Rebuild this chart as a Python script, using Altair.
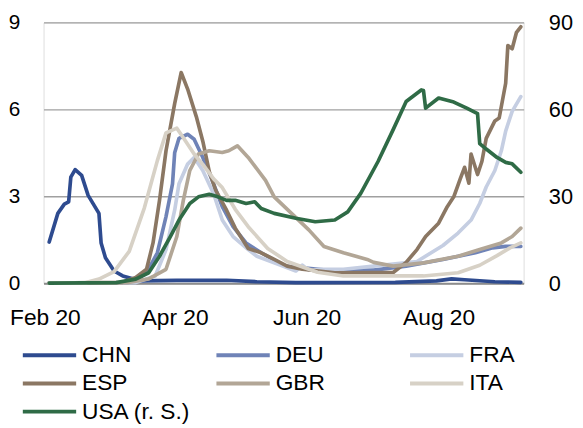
import altair as alt
import pandas as pd

names = ["CHN", "DEU", "FRA", "ESP", "GBR", "ITA", "USA (r. S.)"]
colors = ["#2E4B8F", "#6F83B7", "#C5CEE2", "#8B7763", "#B2A696", "#D7D1C6", "#2F6B46"]

chn_dates = ["2020-02-03", "2020-02-07", "2020-02-10", "2020-02-12", "2020-02-13", "2020-02-15",
             "2020-02-18", "2020-02-21", "2020-02-26", "2020-02-27", "2020-02-29", "2020-03-04",
             "2020-03-08", "2020-03-16", "2020-04-02", "2020-04-25", "2020-05-09", "2020-05-27",
             "2020-07-12", "2020-07-31", "2020-08-07", "2020-08-13", "2020-08-27", "2020-09-08"]
chn_vals = [1.42, 2.41, 2.73, 2.81, 3.66, 3.92, 3.72, 3.03, 2.41, 1.39, 0.88, 0.42,
            0.25, 0.08, 0.10, 0.10, 0.05, 0.02, 0.03, 0.08, 0.15, 0.12, 0.05, 0.03]

deu_dates = ["2020-02-03", "2020-03-10", "2020-03-14", "2020-03-19", "2020-03-24", "2020-03-28",
             "2020-03-31", "2020-04-01", "2020-04-03", "2020-04-07", "2020-04-10", "2020-04-14",
             "2020-04-19", "2020-04-23", "2020-04-28", "2020-05-04", "2020-05-11", "2020-05-22",
             "2020-06-10", "2020-07-02", "2020-07-17", "2020-08-03", "2020-08-18", "2020-08-26",
             "2020-09-01", "2020-09-08"]
deu_vals = [0, 0.02, 0.10, 0.35, 1.05, 2.30, 3.43, 4.50, 5.00, 5.14, 4.97, 4.34,
            3.43, 2.64, 1.95, 1.39, 1.05, 0.59, 0.45, 0.45, 0.59, 0.82, 1.05, 1.22,
            1.27, 1.27]

fra_dates = ["2020-02-03", "2020-03-14", "2020-03-23", "2020-03-28", "2020-04-01", "2020-04-03",
             "2020-04-07", "2020-04-10", "2020-04-14", "2020-04-19", "2020-04-23", "2020-04-28",
             "2020-05-05", "2020-05-09", "2020-05-21", "2020-05-27", "2020-05-30", "2020-06-02",
             "2020-06-08", "2020-06-18", "2020-07-02", "2020-07-22", "2020-08-03", "2020-08-10",
             "2020-08-16", "2020-08-20", "2020-08-23", "2020-08-27", "2020-08-30", "2020-09-01",
             "2020-09-04", "2020-09-08"]
fra_vals = [0, 0.02, 0.25, 1.16, 2.52, 3.43, 4.11, 4.34, 3.89, 3.09, 2.18, 1.61,
            1.16, 0.93, 0.59, 0.42, 0.62, 0.45, 0.48, 0.48, 0.59, 0.75, 1.30, 1.73,
            2.18, 2.75, 3.32, 3.89, 4.57, 5.25, 5.93, 6.44]

esp_dates = ["2020-02-03", "2020-03-08", "2020-03-14", "2020-03-19", "2020-03-22", "2020-03-25",
             "2020-03-28", "2020-04-01", "2020-04-04", "2020-04-07", "2020-04-11", "2020-04-14",
             "2020-04-17", "2020-04-20", "2020-04-25", "2020-04-29", "2020-05-05", "2020-05-11",
             "2020-05-17", "2020-05-23", "2020-05-30", "2020-06-14", "2020-07-02", "2020-07-11",
             "2020-07-17", "2020-07-22", "2020-07-26", "2020-08-01", "2020-08-05", "2020-08-08",
             "2020-08-11", "2020-08-13", "2020-08-15", "2020-08-16", "2020-08-19", "2020-08-21",
             "2020-08-23", "2020-08-27", "2020-08-29", "2020-09-01", "2020-09-02", "2020-09-04",
             "2020-09-06", "2020-09-08"]
esp_vals = [0, 0.03, 0.20, 0.48, 1.39, 2.86, 4.57, 6.20, 7.27, 6.70, 5.75, 4.90,
            3.85, 3.20, 2.52, 1.90, 1.20, 1.05, 0.82, 0.59, 0.48, 0.36, 0.37, 0.37,
            0.72, 1.16, 1.61, 2.07, 2.64, 2.98, 3.60, 4.00, 3.45, 4.46, 3.75, 4.20,
            5.00, 5.60, 5.70, 6.90, 8.20, 8.09, 8.66, 8.85]

gbr_dates = ["2020-02-03", "2020-03-10", "2020-03-20", "2020-03-28", "2020-04-02", "2020-04-05",
             "2020-04-08", "2020-04-12", "2020-04-17", "2020-04-23", "2020-04-26", "2020-04-30",
             "2020-05-05", "2020-05-13", "2020-05-17", "2020-05-25", "2020-06-02", "2020-06-09",
             "2020-06-18", "2020-06-29", "2020-07-02", "2020-07-11", "2020-07-25", "2020-08-10",
             "2020-08-20", "2020-08-30", "2020-09-04", "2020-09-08"]
gbr_vals = [0, 0.02, 0.15, 0.48, 1.61, 2.86, 3.89, 4.46, 4.57, 4.51, 4.57, 4.74,
            4.34, 3.55, 2.98, 2.41, 1.84, 1.27, 1.05, 0.82, 0.72, 0.59, 0.70, 0.93,
            1.16, 1.39, 1.61, 1.90]

ita_dates = ["2020-02-03", "2020-02-20", "2020-02-26", "2020-03-04", "2020-03-11", "2020-03-18",
             "2020-03-24", "2020-03-28", "2020-04-02", "2020-04-05", "2020-04-10", "2020-04-14",
             "2020-04-19", "2020-04-23", "2020-04-29", "2020-05-05", "2020-05-14", "2020-05-23",
             "2020-06-06", "2020-06-18", "2020-07-25", "2020-08-10", "2020-08-20", "2020-08-28",
             "2020-09-03", "2020-09-08"]
ita_vals = [0, 0.02, 0.14, 0.40, 1.10, 2.60, 4.23, 5.19, 5.35, 5.02, 4.46, 4.10,
            3.60, 3.30, 2.55, 1.95, 1.20, 0.75, 0.38, 0.25, 0.25, 0.36, 0.62, 0.95,
            1.22, 1.39]

usa_dates = ["2020-02-03", "2020-03-05", "2020-03-14", "2020-03-20", "2020-03-25", "2020-03-30",
             "2020-04-03", "2020-04-08", "2020-04-12", "2020-04-17", "2020-04-21", "2020-04-25",
             "2020-04-29", "2020-05-04", "2020-05-08", "2020-05-11", "2020-05-17", "2020-05-27",
             "2020-06-05", "2020-06-14", "2020-06-20", "2020-06-26", "2020-07-04", "2020-07-11",
             "2020-07-17", "2020-07-24", "2020-07-25", "2020-07-26", "2020-08-01", "2020-08-08",
             "2020-08-14", "2020-08-19", "2020-08-20", "2020-08-23", "2020-08-28", "2020-09-01",
             "2020-09-04", "2020-09-08"]
usa_vals = [0, 0.2, 1.4, 3.6, 9.3, 16.1, 21.8, 27.5, 29.8, 30.7, 29.8, 28.6,
            28.6, 27.5, 28.1, 25.8, 24.1, 22.4, 21.2, 21.8, 24.6, 31.0, 42.0, 53.0,
            62.7, 66.7, 66.5, 60.4, 63.9, 62.5, 60.4, 58.5, 48.2, 46.3, 43.4, 41.7,
            41.2, 38.3]

left_ticks = [0, 3, 6, 9]
right_ticks = [0, 30, 60, 90]

series = [
    ("CHN", chn_dates, chn_vals),
    ("DEU", deu_dates, deu_vals),
    ("FRA", fra_dates, fra_vals),
    ("ESP", esp_dates, esp_vals),
    ("GBR", gbr_dates, gbr_vals),
    ("ITA", ita_dates, ita_vals),
    ("USA (r. S.)", usa_dates, usa_vals),
]

rows = []
for name, ds, vs in series:
    for d, v in zip(ds, vs):
        rows.append({"date": d, "value": v, "series": name})
df = pd.DataFrame(rows)
df["date"] = pd.to_datetime(df["date"])

FONT = "Liberation Sans"

x_enc = alt.X(
    "date:T",
    scale=alt.Scale(domain=[alt.DateTime(year=2020, month=1, date=31, hours=9, minutes=36),
                            alt.DateTime(year=2020, month=9, date=9, hours=7, minutes=12)]),
    axis=alt.Axis(
        values=[alt.DateTime(year=2020, month=m, date=1) for m in (2, 4, 6, 8)],
        format="%b %y", title=None, grid=False, ticks=False, tickSize=0,
        labelPadding=24, labelFont=FONT, labelFontSize=23, labelColor="#000000",
        labelFlush=False, labelAngle=0, labelOverlap=False,
        domain=True, domainColor="#8C8C8C", domainWidth=2,
    ),
)

color_enc = alt.Color(
    "series:N",
    scale=alt.Scale(domain=names, range=colors),
    legend=alt.Legend(
        title=None, orient="none", legendX=-23, legendY=324, columns=3,
        direction="horizontal", symbolType="stroke", symbolSize=2916,
        symbolStrokeWidth=4, labelFont=FONT, labelFontSize=23, labelColor="#000000",
        labelOffset=4, columnPadding=24, rowPadding=2.5, gridAlign="all", padding=0,
        labelLimit=0, clipHeight=26,
    ),
)

left_axis = alt.Axis(
    values=left_ticks, orient="left", grid=True, gridColor="#A0A0A0", gridWidth=1.3,
    domain=False, ticks=False, tickSize=0, labelPadding=24, labelFont=FONT,
    labelFontSize=21, labelColor="#000000", title=None,
)
right_axis = alt.Axis(
    values=right_ticks, orient="right", grid=False, domain=False, ticks=False,
    tickSize=0, labelPadding=25, labelFont=FONT, labelFontSize=22,
    labelColor="#000000", title=None,
)

base = alt.Chart(df)
layers = []
for i, name in enumerate(names):
    if name.startswith("USA"):
        y = alt.Y("value:Q", scale=alt.Scale(domain=[0, 90]), axis=right_axis)
    else:
        y = alt.Y("value:Q", scale=alt.Scale(domain=[0, 9]),
                  axis=left_axis if i == 0 else None)
    layers.append(
        base.transform_filter(alt.datum.series == name)
        .mark_line(strokeWidth=3.7, strokeJoin="round", strokeCap="round")
        .encode(x=x_enc, y=y, color=color_enc)
    )

chart = (
    alt.layer(*layers)
    .resolve_scale(y="independent")
    .properties(
        width=486, height=264,
        autosize=alt.AutoSizeParams(type="none"),
        padding={"left": 36, "top": 12, "right": 52, "bottom": 144},
    )
    .configure_view(stroke=None)
    .configure(background="white")
)

chart.save("out.html", embed_options={"renderer": "svg", "actions": False})
